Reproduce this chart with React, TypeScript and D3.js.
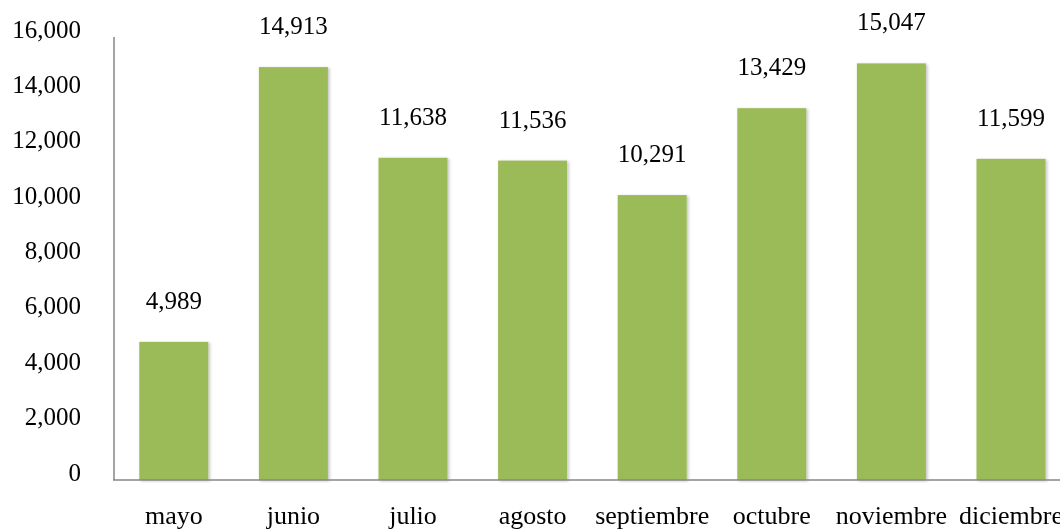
import { useEffect, useRef } from "react";
import * as d3 from "d3";

const months = ["mayo", "junio", "julio", "agosto", "septiembre", "octubre", "noviembre", "diciembre"];
const values = [4989, 14913, 11638, 11536, 10291, 13429, 15047, 11599];
const yTicks = [0, 2000, 4000, 6000, 8000, 10000, 12000, 14000, 16000];

export default function App() {
  const svgRef = useRef<SVGSVGElement | null>(null);

  useEffect(() => {
    const width = 1060;
    const height = 531;
    const margin = { top: 37, left: 114, bottom: 51 };
    const step = 119.6;
    const font = "'Liberation Serif', 'Times New Roman', serif";

    const svg = d3.select(svgRef.current);
    svg.selectAll("*").remove();
    svg.attr("width", width).attr("height", height).style("display", "block");

    const defs = svg.append("defs");
    const filter = defs
      .append("filter")
      .attr("id", "shadow")
      .attr("x", "-10%")
      .attr("y", "-10%")
      .attr("width", "130%")
      .attr("height", "130%");
    filter
      .append("feDropShadow")
      .attr("dx", 1.5)
      .attr("dy", 1)
      .attr("stdDeviation", 1.5)
      .attr("flood-color", "#000")
      .attr("flood-opacity", 0.25);

    const xScale = d3
      .scaleBand()
      .domain(months)
      .range([margin.left, margin.left + step * months.length])
      .paddingInner(0.423)
      .paddingOuter(0.2115);

    const yScale = d3
      .scaleLinear()
      .domain([0, 16000])
      .range([height - margin.bottom, margin.top]);

    const fmt = d3.format(",");

    // y tick labels (no tick marks)
    svg
      .append("g")
      .selectAll("text")
      .data(yTicks)
      .enter()
      .append("text")
      .attr("x", 81)
      .attr("y", d => yScale(d) + 0.5)
      .attr("text-anchor", "end")
      .style("font-family", font)
      .style("font-size", "25px")
      .attr("fill", "#000")
      .text(d => fmt(d));

    // bars
    svg
      .append("g")
      .selectAll("rect")
      .data(values)
      .enter()
      .append("rect")
      .attr("x", (d, i) => xScale(months[i])!)
      .attr("y", d => yScale(d))
      .attr("width", xScale.bandwidth())
      .attr("height", d => yScale(0) - yScale(d))
      .attr("fill", "#9BBB59")
      .attr("filter", "url(#shadow)");

    // value labels
    svg
      .append("g")
      .selectAll("text")
      .data(values)
      .enter()
      .append("text")
      .attr("x", (d, i) => xScale(months[i])! + xScale.bandwidth() / 2)
      .attr("y", d => yScale(d) - 33)
      .attr("text-anchor", "middle")
      .style("font-family", font)
      .style("font-size", "25px")
      .attr("fill", "#000")
      .text(d => fmt(d));

    // axes lines
    svg
      .append("line")
      .attr("x1", margin.left)
      .attr("x2", margin.left)
      .attr("y1", yScale(16000))
      .attr("y2", yScale(0))
      .attr("stroke", "#868686")
      .attr("stroke-width", 1.5);
    svg
      .append("line")
      .attr("x1", margin.left - 1)
      .attr("x2", width)
      .attr("y1", yScale(0))
      .attr("y2", yScale(0))
      .attr("stroke", "#868686")
      .attr("stroke-width", 1.5);

    // month labels
    svg
      .append("g")
      .selectAll("text")
      .data(months)
      .enter()
      .append("text")
      .attr("x", d => xScale(d)! + xScale.bandwidth() / 2)
      .attr("y", 524)
      .attr("text-anchor", "middle")
      .style("font-family", font)
      .style("font-size", "26px")
      .attr("fill", "#000")
      .text(d => d);
  }, []);

  return (
    <div style={{ position: "fixed", left: 0, top: 0 }}>
      <svg ref={svgRef}></svg>
    </div>
  );
}
